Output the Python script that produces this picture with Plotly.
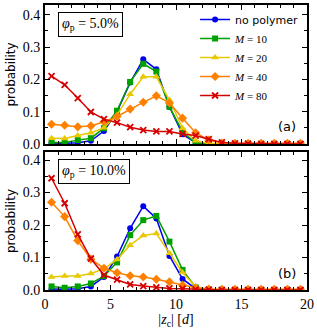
import plotly.graph_objects as go
from plotly.subplots import make_subplots

x_vals = [0.5 + i for i in range(20)]

# phi_p = 5.0%
top_nopoly = [0.003, 0.002, 0.004, 0.010, 0.040, 0.100, 0.190, 0.262, 0.231, 0.115, 0.030, 0.004, 0, 0, 0, 0, 0, 0, 0, 0]
top_m10 = [0.005, 0.005, 0.012, 0.018, 0.049, 0.103, 0.192, 0.248, 0.224, 0.115, 0.038, 0.003, 0, 0, 0, 0, 0, 0, 0, 0]
top_m20 = [0.018, 0.017, 0.026, 0.035, 0.050, 0.090, 0.154, 0.208, 0.208, 0.136, 0.049, 0.010, 0.002, 0, 0, 0, 0, 0, 0, 0]
top_m40 = [0.061, 0.058, 0.053, 0.056, 0.069, 0.085, 0.108, 0.129, 0.149, 0.127, 0.080, 0.035, 0.012, 0.003, 0.002, 0.002, 0.002, 0.002, 0.002, 0.002]
top_m80 = [0.210, 0.183, 0.142, 0.099, 0.077, 0.066, 0.052, 0.043, 0.039, 0.039, 0.031, 0.026, 0.015, 0.005, 0.002, 0.001, 0, 0, 0, 0]

# phi_p = 10.0%
bot_nopoly = [0.003, 0.002, 0.004, 0.011, 0.040, 0.103, 0.190, 0.258, 0.220, 0.105, 0.034, 0.004, 0, 0, 0, 0, 0, 0, 0, 0]
bot_m10 = [0.011, 0.007, 0.011, 0.020, 0.043, 0.085, 0.169, 0.215, 0.228, 0.149, 0.062, 0.008, 0.001, 0, 0, 0, 0, 0, 0, 0]
bot_m20 = [0.040, 0.043, 0.043, 0.051, 0.065, 0.094, 0.138, 0.168, 0.174, 0.113, 0.054, 0.010, 0.002, 0, 0, 0, 0, 0, 0, 0]
bot_m40 = [0.270, 0.226, 0.152, 0.095, 0.067, 0.053, 0.044, 0.040, 0.033, 0.025, 0.015, 0.007, 0.003, 0.002, 0.002, 0.002, 0.002, 0.002, 0.002, 0.002]
bot_m80 = [0.344, 0.267, 0.171, 0.097, 0.046, 0.032, 0.017, 0.012, 0.008, 0.005, 0.004, 0.002, 0.001, 0, 0, 0, 0, 0, 0, 0]

SANS = "DejaVu Sans"
SERIF = "Liberation Serif"

series_names = ['<span style="font-family:DejaVu Sans">no polymer</span>',
                "<i>M</i> = 10", "<i>M</i> = 20", "<i>M</i> = 40", "<i>M</i> = 80"]
colors = ["#0000f0", "#00a000", "#e8c800", "#ff8000", "#d40000"]
symbols = ["circle", "square", "triangle-up", "diamond", "x-thin"]
sizes = [6, 6, 7, 7, 6]

top_data = [top_nopoly, top_m10, top_m20, top_m40, top_m80]
bot_data = [bot_nopoly, bot_m10, bot_m20, bot_m40, bot_m80]

fig = make_subplots(rows=2, cols=1, shared_xaxes=True, vertical_spacing=0.0)


def marker_for(i):
    if symbols[i] == "x-thin":
        return dict(symbol="x-thin", size=sizes[i], color=colors[i],
                    line=dict(width=1.8, color=colors[i]))
    return dict(symbol=symbols[i], size=sizes[i], color=colors[i], line=dict(width=0))


for i in range(5):
    fig.add_trace(go.Scatter(x=x_vals, y=top_data[i], mode="lines+markers", name=series_names[i],
                             line=dict(color=colors[i], width=1.5),
                             marker=marker_for(i),
                             legendgroup=str(i), showlegend=True), row=1, col=1)
    fig.add_trace(go.Scatter(x=x_vals, y=bot_data[i], mode="lines+markers", name=series_names[i],
                             line=dict(color=colors[i], width=1.5),
                             marker=marker_for(i),
                             legendgroup=str(i), showlegend=False), row=2, col=1)

axis_common = dict(showline=True, linewidth=2, linecolor="black", mirror="allticks",
                   ticks="inside", ticklen=5, tickwidth=1, tickcolor="black",
                   showgrid=False, zeroline=False, automargin=False,
                   tickfont=dict(family=SERIF, size=14, color="black"))

fig.update_xaxes(**axis_common, range=[0, 20], tickvals=[0, 5, 10, 15, 20],
                 minor=dict(dtick=1, ticks="inside", ticklen=3, tickcolor="black", showgrid=False))
fig.update_xaxes(showticklabels=False, row=1, col=1)
fig.update_xaxes(title=dict(text="|<i>z</i><sub>c</sub>| [<i>d</i>]", font=dict(family=SERIF, size=14, color="black"),
                            standoff=0), row=2, col=1)
fig.update_yaxes(**axis_common, tickvals=[0, 0.1, 0.2, 0.3, 0.4], tickformat=".1f",
                 minor=dict(dtick=0.05, ticks="inside", ticklen=3, tickcolor="black", showgrid=False),
                 title=dict(text="probability", font=dict(family=SANS, size=12, color="black"), standoff=4))
fig.update_yaxes(range=[0, 0.430], row=1, col=1)
fig.update_yaxes(range=[0, 0.4246], row=2, col=1)

fig.update_layout(
    width=317, height=331,
    margin=dict(l=45, r=10, t=5, b=41),
    plot_bgcolor="white", paper_bgcolor="white",
    yaxis=dict(domain=[0.5123, 1.0]),
    yaxis2=dict(domain=[0.0, 0.484]),
    legend=dict(x=0.985, y=1.0, xanchor="right", yanchor="top",
                font=dict(family=SERIF, size=11, color="black"),
                bgcolor="rgba(0,0,0,0)", borderwidth=0, tracegroupgap=0,
                itemwidth=30),
    showlegend=True,
    annotations=[
        dict(text="<i>φ</i><sub>p</sub> = 5.0%", xref="paper", yref="paper",
             x=(58 - 45) / 262, y=(290 - 12) / 285, xanchor="left", yanchor="top",
             showarrow=False, font=dict(family=SERIF, size=14, color="black"),
             bordercolor="black", borderwidth=1, borderpad=3, bgcolor="white"),
        dict(text="<i>φ</i><sub>p</sub> = 10.0%", xref="paper", yref="paper",
             x=(58 - 45) / 262, y=(290 - 159) / 285, xanchor="left", yanchor="top",
             showarrow=False, font=dict(family=SERIF, size=14, color="black"),
             bordercolor="black", borderwidth=1, borderpad=3, bgcolor="white"),
        dict(text="(a)", xref="paper", yref="paper",
             x=(298 - 45) / 262, y=(290 - 126) / 285, xanchor="right", yanchor="middle",
             showarrow=False, font=dict(family=SANS, size=13, color="black")),
        dict(text="(b)", xref="paper", yref="paper",
             x=(298 - 45) / 262, y=(290 - 273) / 285, xanchor="right", yanchor="middle",
             showarrow=False, font=dict(family=SANS, size=13, color="black")),
    ],
)

fig.write_html("out.html", config={"displayModeBar": False},
               post_script="document.body.style.margin='0';document.body.style.padding='0';")
